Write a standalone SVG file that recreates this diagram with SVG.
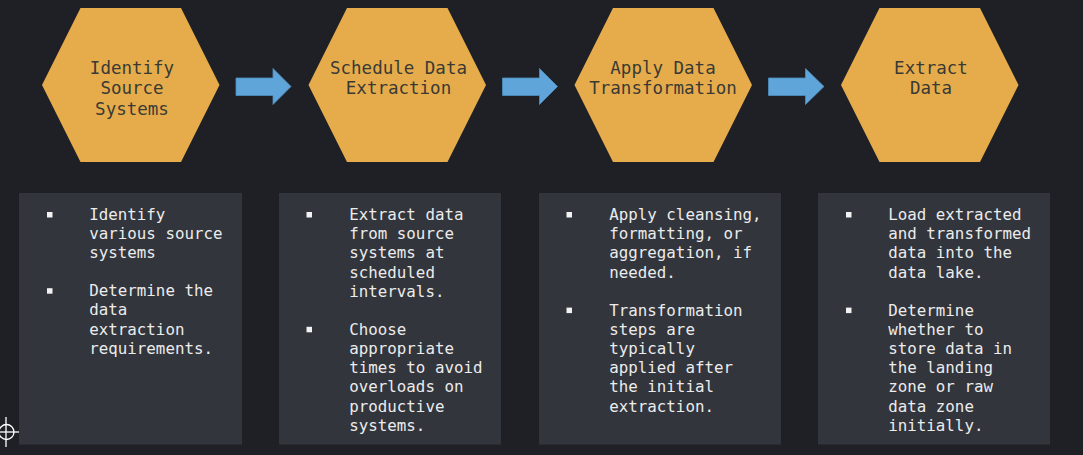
<svg xmlns="http://www.w3.org/2000/svg" width="1083" height="455" viewBox="0 0 1083 455">
<style>
.hex{fill:#e6ac4b}
.arrow{fill:#5fa5d9;stroke:#4d8fc2;stroke-width:0.8}
.ht{font-family:"DejaVu Sans Mono","Liberation Mono",monospace;font-size:17.5px;fill:#3a3a34;text-anchor:middle}
.box{fill:#32353c}
.bt{font-family:"DejaVu Sans Mono","Liberation Mono",monospace;font-size:15.8px;fill:#ececec}
.bul{fill:#f2f2f2}
</style>
<rect width="1083" height="455" fill="#1f2025"/>
<g id="connectors">
<polygon class="arrow" points="236,78 273,78 273,68.5 291,86.5 273,104.5 273,95.5 236,95.5"/>
<polygon class="arrow" points="502.5,78 539.5,78 539.5,68.5 557.5,86.5 539.5,104.5 539.5,95.5 502.5,95.5"/>
<polygon class="arrow" points="768.5,78 805.5,78 805.5,68.5 824,86.5 805.5,104.5 805.5,95.5 768.5,95.5"/>
</g>
<g id="step1">
<polygon class="hex" points="42,85 80.5,8 181,8 219.5,85 181,162 80.5,162"/>
<text class="ht" x="132" y="73.5"><tspan x="132">Identify</tspan><tspan x="132" dy="20.5">Source</tspan><tspan x="132" dy="20.5">Systems</tspan></text>
</g>
<g id="step2">
<polygon class="hex" points="308.5,85 347,8 447.5,8 486,85 447.5,162 347,162"/>
<text class="ht" x="398.5" y="73.5"><tspan x="398.5">Schedule Data</tspan><tspan x="398.5" dy="20.5">Extraction</tspan></text>
</g>
<g id="step3">
<polygon class="hex" points="574.5,85 613,8 713.5,8 752,85 713.5,162 613,162"/>
<text class="ht" x="663" y="73.5"><tspan x="663">Apply Data</tspan><tspan x="663" dy="20.5">Transformation</tspan></text>
</g>
<g id="step4">
<polygon class="hex" points="841,85 879.5,8 980,8 1018.5,85 980,162 879.5,162"/>
<text class="ht" x="931" y="73.5"><tspan x="931">Extract</tspan><tspan x="931" dy="20.5">Data</tspan></text>
</g>
<g id="box1">
<rect class="box" x="19" y="193" width="223" height="251.5"/>
<rect class="bul" x="47" y="212" width="5.5" height="5.5"/>
<rect class="bul" x="47" y="288.2" width="5.5" height="5.5"/>
<text class="bt" y="220"><tspan x="89.3">Identify</tspan><tspan x="89.3" dy="19.2">various source</tspan><tspan x="89.3" dy="19.2">systems</tspan><tspan x="89.3" dy="37.8">Determine the</tspan><tspan x="89.3" dy="19.2">data</tspan><tspan x="89.3" dy="19.2">extraction</tspan><tspan x="89.3" dy="19.2">requirements.</tspan></text>
</g>
<g id="box2">
<rect class="box" x="279" y="193" width="222" height="251.5"/>
<rect class="bul" x="306.5" y="212" width="5.5" height="5.5"/>
<rect class="bul" x="306.5" y="326.8" width="5.5" height="5.5"/>
<text class="bt" y="220"><tspan x="349.3">Extract data</tspan><tspan x="349.3" dy="19.2">from source</tspan><tspan x="349.3" dy="19.2">systems at</tspan><tspan x="349.3" dy="19.2">scheduled</tspan><tspan x="349.3" dy="19.2">intervals.</tspan><tspan x="349.3" dy="38">Choose</tspan><tspan x="349.3" dy="19.2">appropriate</tspan><tspan x="349.3" dy="19.2">times to avoid</tspan><tspan x="349.3" dy="19.2">overloads on</tspan><tspan x="349.3" dy="19.2">productive</tspan><tspan x="349.3" dy="19.2">systems.</tspan></text>
</g>
<g id="box3">
<rect class="box" x="539" y="193" width="242" height="251.5"/>
<rect class="bul" x="566.5" y="212" width="5.5" height="5.5"/>
<rect class="bul" x="566.5" y="307.6" width="5.5" height="5.5"/>
<text class="bt" y="220"><tspan x="609.3">Apply cleansing,</tspan><tspan x="609.3" dy="19.2">formatting, or</tspan><tspan x="609.3" dy="19.2">aggregation, if</tspan><tspan x="609.3" dy="19.2">needed.</tspan><tspan x="609.3" dy="38">Transformation</tspan><tspan x="609.3" dy="19.2">steps are</tspan><tspan x="609.3" dy="19.2">typically</tspan><tspan x="609.3" dy="19.2">applied after</tspan><tspan x="609.3" dy="19.2">the initial</tspan><tspan x="609.3" dy="19.2">extraction.</tspan></text>
</g>
<g id="box4">
<rect class="box" x="818" y="193" width="232" height="251.5"/>
<rect class="bul" x="846" y="212" width="5.5" height="5.5"/>
<rect class="bul" x="846" y="307.6" width="5.5" height="5.5"/>
<text class="bt" y="220"><tspan x="888.3">Load extracted</tspan><tspan x="888.3" dy="19.2">and transformed</tspan><tspan x="888.3" dy="19.2">data into the</tspan><tspan x="888.3" dy="19.2">data lake.</tspan><tspan x="888.3" dy="38">Determine</tspan><tspan x="888.3" dy="19.2">whether to</tspan><tspan x="888.3" dy="19.2">store data in</tspan><tspan x="888.3" dy="19.2">the landing</tspan><tspan x="888.3" dy="19.2">zone or raw</tspan><tspan x="888.3" dy="19.2">data zone</tspan><tspan x="888.3" dy="19.2">initially.</tspan></text>
</g>
<g id="crosshair" fill="none" stroke="#ffffff" stroke-width="1.3">
<circle cx="6.5" cy="432" r="7.5"/>
<line x1="0" y1="432" x2="19" y2="432"/>
<line x1="6" y1="417" x2="6" y2="447"/>
</g>
</svg>
